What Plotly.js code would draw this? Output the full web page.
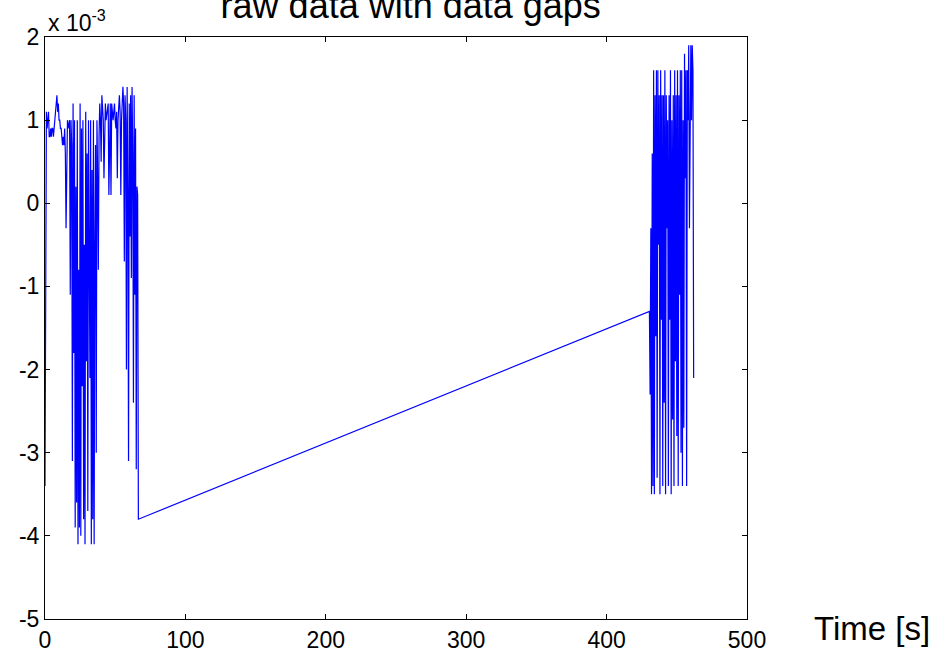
<!DOCTYPE html>
<html>
<head>
<meta charset="utf-8">
<script src="https://cdn.plot.ly/plotly-3.0.1.min.js"></script>
<style>html,body{margin:0;padding:0;background:#fff;}#chart{width:942px;height:652px;}</style>
</head>
<body>
<div id="chart"></div>
<script>
// Time [s] of each sample (first block, then the block after the data gap)
const timeA = [0,0.5,1,1.5,2,2.5,3,3.5,4,4.5,5,5.5,6,6.5,7,7.5,8,8.5,9,9.5,10,10.5,11,11.5,12,12.5,13,13.5,14,14.5,15,15.5,16,16.5,17,17.5,18,18.5,19,19.5,
  20,20.5,21,21.5,22,22.5,23,23.5,24,24.5,25,25.5,26,26.5,27,27.5,28,28.5,29,29.5,30,30.5,31,31.5,32,32.5,33,33.5,34,34.5,35,35.5,36,36.5,37,
  37.5,38,38.5,39,39.5,40,40.5,41,41.5,42,42.5,43,43.5,44,44.5,45,45.5,46,46.5,47,47.5,48,48.5,
  49,49.5,50,50.5,51,51.5,52,52.5,53,53.5,54,54.5,55,55.5,56,56.5,
  57,57.5,58,58.5,59,59.5,60,60.5,61,61.5,62,62.5,63,63.5,64,64.5,65,65.5,66,66.5];
// Signal (units of 1e-3)
const valueA = [-3.4,1.0,1.1,0.9,1.1,1.1,0.8,0.8,0.9,0.8,0.9,0.9,0.8,0.9,1.0,1.0,1.1,1.3,1.1,1.2,1.0,1.0,0.9,0.9,0.8,0.7,0.8,0.7,0.9,0.6,-0.3,0.8,1.0,0.9,1.0,1.0,-1.1,1.0,0.7,-3.1,
  1.2,-1.8,1.0,-3.9,0.2,-3.6,1.0,-4.1,-0.8,-3.9,1.2,-4.0,0.9,-2.2,1.0,-3.8,-0.5,-4.1,1.1,-1.9,0.6,-3.7,1.0,-0.9,-2.1,1.0,-4.1,0.4,-3.8,1.0,-4.1,-0.5,0.7,-3.0,1.0,
  0.3,-0.8,0.8,1.2,1.0,0.5,1.3,1.2,1.0,0.3,1.1,1.2,1.0,1.1,1.2,1.2,0.1,1.1,1.2,0.1,1.2,1.1,1.0,
  1.1,1.2,1.0,0.9,1.1,0.3,1.0,1.2,1.3,1.1,0.1,1.0,1.3,1.4,1.2,-0.7,
  1.3,1.0,-2.0,1.4,0.2,-3.1,1.2,-0.4,1.3,-0.9,1.4,0.6,-2.4,1.3,-1.1,0.9,-3.2,0.2,0.1,-3.8];

const timeB = [430.5,431,431.5,432,432.5,433,433.5,434,434.5,435,435.5,436,436.5,437,437.5,438,438.5,439,439.5,440,440.5,441,441.5,442,442.5,443,443.5,444,444.5,445,445.5,446,
  446.5,447,447.5,448,448.5,449,449.5,450,450.5,451,451.5,452,452.5,453,453.5,454,454.5,455,455.5,456,456.5,457,457.5,458,458.5,459,459.5,460,460.5,461,461.5,462];
const valueB = [-1.3,-2.3,-0.3,-3.5,0.6,-3.4,1.6,-3.5,1.3,-1.6,1.6,-3.3,1.6,-0.5,1.3,-3.5,1.6,-1.4,1.3,-3.4,1.3,-2.4,1.6,-3.5,1.3,-0.3,1.0,-3.4,1.3,-1.4,1.6,-3.5,
  1.0,-2.6,1.3,-3.4,1.6,-1.9,1.3,-2.8,1.6,-3.4,1.3,-1.1,1.6,-3.0,1.6,-3.4,1.0,-2.7,1.8,0.3,1.6,-3.4,1.6,1.0,1.9,-0.3,1.6,1.9,1.0,1.9,1.6,-2.1];

const xTicks = [0,100,200,300,400,500];
const yTicks = [-5,-4,-3,-2,-1,0,1,2];

const FONT = 'Liberation Sans, Arial, Helvetica, sans-serif';

const trace = {
  x: timeA.concat(timeB),
  y: valueA.concat(valueB),
  type: 'scatter',
  mode: 'lines',
  line: {color: '#0000ff', width: 1.2},
  hoverinfo: 'x+y'
};

const axisCommon = {
  showgrid: false, zeroline: false, showline: true, linecolor: '#000', linewidth: 1,
  mirror: 'ticks', ticks: 'inside', ticklen: 5, tickcolor: '#000', tickwidth: 1,
  tickfont: {family: FONT, size: 23, color: '#000'}
};

const layout = {
  width: 942, height: 652,
  margin: {l: 45, r: 195, t: 37, b: 33, pad: 0},
  paper_bgcolor: '#fff', plot_bgcolor: '#fff',
  showlegend: false,
  title: {text: 'raw data with data gaps', font: {family: FONT, size: 36, color: '#000'},
          xref: 'paper', x: 0.521, xanchor: 'center', yref: 'container', y: 0.991, yanchor: 'middle'},
  xaxis: Object.assign({}, axisCommon, {range: [0, 500], tickvals: xTicks, ticktext: xTicks.map(String)}),
  yaxis: Object.assign({}, axisCommon, {range: [-5, 2], tickvals: yTicks, ticktext: yTicks.map(String)}),
  annotations: [
    {text: 'Time [s]', xref: 'paper', yref: 'paper', x: 1.178, y: -0.016, xanchor: 'center', yanchor: 'middle',
     showarrow: false, font: {family: FONT, size: 33, color: '#000'}},
    {text: 'x 10<sup>-3</sup>', xref: 'paper', yref: 'paper', x: 0.002, y: 1.027, xanchor: 'left', yanchor: 'middle',
     showarrow: false, font: {family: FONT, size: 23, color: '#000'}}
  ]
};

Plotly.newPlot('chart', [trace], layout, {displayModeBar: false, staticPlot: true});
</script>
</body>
</html>
